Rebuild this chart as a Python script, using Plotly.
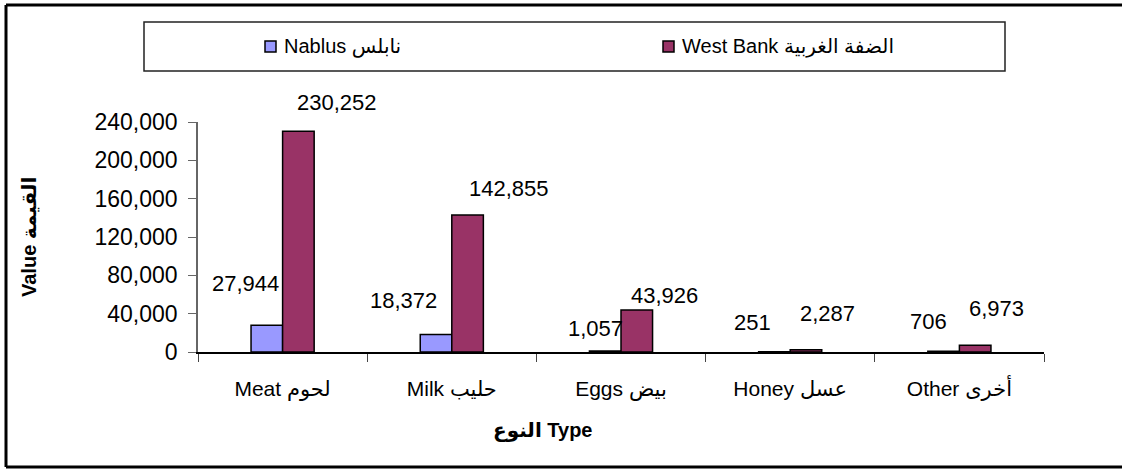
import plotly.graph_objects as go

categories = ["Meat لحوم", "Milk حليب", "Eggs بيض", "Honey عسل", "Other أخرى"]
nablus = [27944, 18372, 1057, 251, 706]
west_bank = [230252, 142855, 43926, 2287, 6973]
series_names = ["Nablus نابلس", "West Bank الضفة الغربية"]
series_colors = ["#9999FF", "#993366"]
y_ticks = [0, 40000, 80000, 120000, 160000, 200000, 240000]

# label offsets in pixels (layout only)
nablus_dx = [-37, -48, -26, -38, -31]
nablus_dy = [42, 34, 22, 29, 30]
wb_dx = [54, 57, 43, 37, 37]
wb_dy = [29, 27, 14, 36, 37]

W, H = 1122, 469
L, R, T, B = 198, 1044, 122, 352

def px(x):
    return (x - L) / (R - L)

def py(y):
    return (B - y) / (B - T)

FONT = "Liberation Sans, Arial, DejaVu Sans, sans-serif"

fig = go.Figure()
for name, vals, col in zip(series_names, [nablus, west_bank], series_colors):
    fig.add_trace(go.Bar(x=categories, y=vals, name=name, showlegend=False,
                         marker=dict(color=col, line=dict(color="black", width=1.5))))

ann = []
for i, c in enumerate(categories):
    ann.append(dict(x=c, y=nablus[i], xref="x", yref="y", text=f"{nablus[i]:,}", showarrow=False,
                    xshift=nablus_dx[i], yshift=nablus_dy[i], xanchor="center", yanchor="middle",
                    font=dict(size=22, color="black", family=FONT)))
    ann.append(dict(x=c, y=west_bank[i], xref="x", yref="y", text=f"{west_bank[i]:,}", showarrow=False,
                    xshift=wb_dx[i], yshift=wb_dy[i], xanchor="center", yanchor="middle",
                    font=dict(size=22, color="black", family=FONT)))

ann.append(dict(x=px(29), y=py(237), xref="paper", yref="paper", text="<b>Value القيمة</b>",
                showarrow=False, textangle=-90, xanchor="center", yanchor="middle",
                font=dict(size=20, color="black", family=FONT)))
ann.append(dict(x=px(543), y=py(430), xref="paper", yref="paper", text="<b>النوع Type</b>",
                showarrow=False, xanchor="center", yanchor="middle",
                font=dict(size=20, color="black", family=FONT)))

frame = dict(color="black", width=3)
shapes = [
    dict(type="line", xref="paper", yref="paper", x0=px(6), x1=px(6), y0=py(467), y1=py(5), line=frame),
    dict(type="line", xref="paper", yref="paper", x0=px(6), x1=px(1122), y0=py(5), y1=py(5), line=frame),
    dict(type="line", xref="paper", yref="paper", x0=px(6), x1=px(1122), y0=py(467), y1=py(467), line=frame),
    dict(type="rect", xref="paper", yref="paper", x0=px(144), x1=px(1005), y0=py(71), y1=py(22),
         line=dict(color="#222222", width=1.5), fillcolor="rgba(0,0,0,0)"),
]

# manual legend
legend_x = [265, 663]
for name, col, lx in zip(series_names, series_colors, legend_x):
    shapes.append(dict(type="rect", xref="paper", yref="paper", x0=px(lx), x1=px(lx + 11),
                       y0=py(52), y1=py(41), line=dict(color="black", width=1.5), fillcolor=col))
    ann.append(dict(x=px(lx + 17), y=py(46.5), xref="paper", yref="paper", text=name,
                    showarrow=False, xanchor="left", yanchor="middle",
                    font=dict(size=20, color="black", family=FONT)))

fig.update_layout(
    width=W, height=H,
    margin=dict(l=L, r=W - R, t=T, b=H - B, pad=0, autoexpand=False),
    paper_bgcolor="white", plot_bgcolor="white",
    barmode="group", bargap=0.627, bargroupgap=0,
    font=dict(family=FONT, size=20, color="black"),
    showlegend=False,
    annotations=ann,
    shapes=shapes,
)
fig.update_xaxes(type="category", tickson="boundaries", ticks="outside", ticklen=8, tickwidth=1,
                 tickcolor="#444", showline=True, linecolor="black", linewidth=1.5,
                 tickfont=dict(size=21, color="black", family=FONT), showgrid=False,
                 ticklabelstandoff=17, fixedrange=True)
fig.update_yaxes(range=[0, 240000], tickvals=y_ticks, tickformat=",", ticks="outside", ticklen=8,
                 tickwidth=1, tickcolor="#666", showline=True, linecolor="#666", linewidth=1.5,
                 tickfont=dict(size=23, color="black", family=FONT), showgrid=False, zeroline=False,
                 ticklabelstandoff=6, fixedrange=True)

fig.write_html("out.html", config={"displayModeBar": False},
               post_script="document.body.style.margin='0';document.body.style.padding='0';"
                           "document.body.style.overflow='hidden';"
                           "document.documentElement.style.overflow='hidden';")
